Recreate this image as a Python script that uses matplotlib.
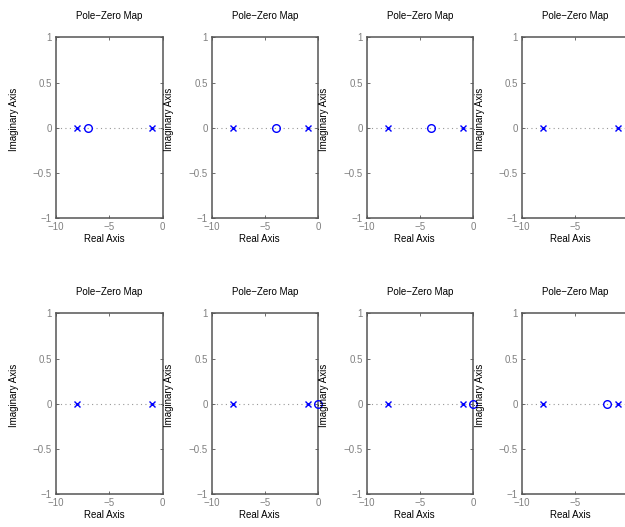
import numpy as np
import matplotlib
matplotlib.use('Agg')
import matplotlib.pyplot as plt

plt.rcParams['font.family'] = ['Liberation Sans', 'DejaVu Sans']

# poles and zeros of each system, row by row
poles = [
  [-8, -1], [-8, -1], [-8, -1], [-8, -1],
  [-8, -1], [-8, -1], [-8, -1], [-8, -1],
]
zeros = [
  [-7], [-4], [-4], [],
  [], [0], [0], [-2],
]

x_ticks = [-10, -5, 0]
x_tick_labels = ['\u221210', '\u22125', '0']
y_ticks = [-1, -0.5, 0, 0.5, 1]
y_tick_labels = ['\u22121', '\u22120.5', '0', '0.5', '1']

W, H = 625, 527

def pz_axes(fig, left, top, pz, zz, last_col=False):
  # axes placed in pixels, last column runs past the figure edge
  w, h = 106.7, 181
  ax = fig.add_axes([left / W, 1 - (top + h) / H, w / W, h / H])
  ax.set_xlim(-10, 0)
  ax.set_ylim(-1, 1)

  ax.axhline(0, color='0.6', lw=0.8, ls=(0, (1, 3)), zorder=1)
  ax.plot(pz, np.zeros(len(pz)), 'x', color='blue', ms=4.5, mew=1.0,
          clip_on=False, zorder=3)
  if len(zz):
    ax.plot(zz, np.zeros(len(zz)), 'o', color='blue', mfc='none', ms=5.5,
            mew=1.0, clip_on=False, zorder=3)

  ax.set_xticks(x_ticks)
  labels = list(x_tick_labels)
  if last_col:
    labels[-1] = ''  # falls off the right edge anyway
  ax.set_xticklabels(labels)
  ax.set_yticks(y_ticks)
  ax.set_yticklabels(y_tick_labels)
  ax.tick_params(direction='in', length=2, width=0.6, top=True, right=True,
                 labelsize=7, labelcolor='#808080', color='#555555', pad=3)
  for s in ax.spines.values():
    s.set_color('#555555')
    s.set_linewidth(1.1)

  ax.set_title('Pole\u2212Zero Map', fontsize=7, pad=13)
  ax.set_xlabel('Real Axis', fontsize=7)
  ax.xaxis.set_label_coords(0.45, -0.087)
  ax.set_ylabel('Imaginary Axis', fontsize=7)
  ax.yaxis.set_label_coords(-0.35, 0.545)
  return ax


if __name__ == "__main__":
  fig = plt.figure(figsize=(W / 100, H / 100), dpi=100)
  lefts = [56, 211.7, 366.7, 522]
  tops = [37.3, 313.3]
  k = 0
  for top in tops:
    for j, left in enumerate(lefts):
      pz_axes(fig, left, top, poles[k], zeros[k], last_col=(j == 3))
      k += 1
  plt.savefig('out.png', dpi=100)
